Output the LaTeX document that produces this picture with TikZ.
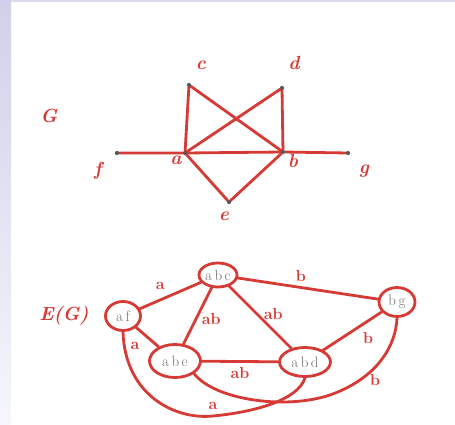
\documentclass[tikz,border=0pt]{standalone}
\usetikzlibrary{shapes.geometric}
\definecolor{hand}{RGB}{214,58,52}
\definecolor{lav}{RGB}{208,208,234}
\definecolor{lavlight}{RGB}{246,246,252}
\definecolor{pencil}{RGB}{115,115,115}
\begin{document}
\begin{tikzpicture}[x=1pt,y=-1pt,
  edge/.style={draw=hand,line width=2.8pt,line cap=round},
  dot/.style={circle,fill=black!65,inner sep=0pt,minimum size=4pt},
  vlabel/.style={text=hand,font=\fontsize{19}{19}\selectfont\itshape\bfseries},
  elabel/.style={text=hand,font=\fontsize{16}{16}\selectfont\bfseries},
  clique/.style={ellipse,draw=hand,line width=2.8pt,inner sep=0pt,fill=white,text=pencil,font=\fontsize{15}{15}\selectfont}]
\useasboundingbox (0,0) rectangle (455,425);
\shade[top color=lav,bottom color=lavlight] (0,0) rectangle (11,425);
\fill[lav!80!white] (11,0) rectangle (455,2);
% graph G
\node[dot] (a) at (185,153) {};
\node[dot] (b) at (283,152) {};
\node[dot] (c) at (189,85) {};
\node[dot] (d) at (282,88) {};
\node[dot] (e) at (229,202) {};
\node[dot] (f) at (117,153) {};
\node[dot] (g) at (348,153) {};
\draw[edge] (f) -- (a) -- (b) -- (g);
\draw[edge] (a) -- (c) -- (b) -- (d) -- (a);
\draw[edge] (a) -- (e) -- (b);
\node[dot] at (a) {};
\node[dot] at (b) {};
\node[dot] at (c) {};
\node[dot] at (d) {};
\node[dot] at (e) {};
\node[dot] at (f) {};
\node[dot] at (g) {};
\node[vlabel] (lc) at (201,65) {c};
\node[vlabel] (ld) at (294,63) {d};
\node[vlabel] (la) at (176,160) {a};
\node[vlabel] (lb) at (293,161) {b};
\node[vlabel] (lf) at (98,171) {f};
\node[vlabel] (lg) at (364,171) {g};
\node[vlabel] (le) at (224,216) {e};
\node[vlabel] (lG) at (49,116) {G};
% graph E(G)
\node[vlabel] (lEG) at (64,316) {E(G)};
\node[clique,minimum width=38pt,minimum height=24pt] (abc) at (218,275) {a\,b\,c};
\node[clique,minimum width=35pt,minimum height=29pt] (af) at (123,316) {a\,f};
\node[clique,minimum width=51pt,minimum height=33pt] (abe) at (175,361) {a\,b\,e};
\node[clique,minimum width=51pt,minimum height=29pt] (abd) at (305,362) {a\,b\,d};
\node[clique,minimum width=36pt,minimum height=29pt] (bg) at (397,302) {b\,g};
\draw[edge] (af) -- node[elabel,pos=0.5,above left=1pt] {a} (abc);
\draw[edge] (abc) -- node[elabel,pos=0.45,above=1pt] {b} (bg);
\draw[edge] (abc) -- node[elabel,pos=0.55,right=1pt] {ab} (abe);
\draw[edge] (abc) -- node[elabel,pos=0.45,right=2pt] {ab} (abd);
\draw[edge] (af) -- (abe);
\node[elabel] (laf) at (135,346) {a};
\draw[edge] (abe) -- node[elabel,below=1pt] {ab} (abd);
\draw[edge] (abd) -- node[elabel,pos=0.6,below right=0pt] {b} (bg);
\draw[edge] (af.south) .. controls (125,395) and (175,420) .. (213,416)
  .. controls (255,412) and (298,400) .. (abd.south);
\node[elabel] (lafabd) at (213,406) {a};
\draw[edge] (abe.south east) .. controls (215,400) and (285,410) .. (330,395)
  .. controls (378,378) and (396,345) .. (bg.south);
\node[elabel] (labebg) at (375,380) {b};
\end{tikzpicture}
\end{document}
